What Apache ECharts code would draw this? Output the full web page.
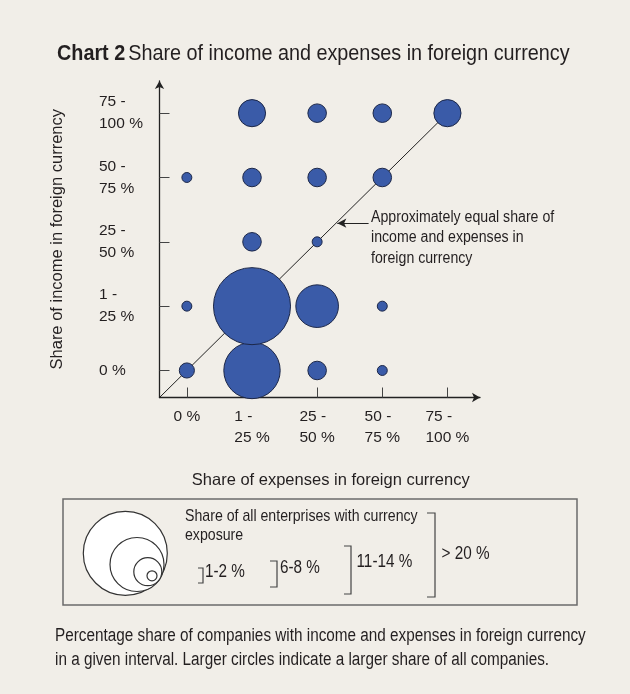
<!DOCTYPE html>
<html>
<head>
<meta charset="utf-8">
<style>
  html, body { margin: 0; padding: 0; background: #f1eee8; }
  #chart { width: 630px; height: 694px; }
</style>
<script src="https://cdn.jsdelivr.net/npm/echarts@6/dist/echarts.min.js"></script>
</head>
<body>
<div id="chart"></div>
<script>
// ----------data----------
const expenseLabels = ['0 %', '1 -\n25 %', '25 -\n50 %', '50 -\n75 %', '75 -\n100 %'];
const incomeLabels = ['0 %', '1 -\n25 %', '25 -\n50 %', '50 -\n75 %', '75 -\n100 %'];
// bubble position (index into labels) and share of enterprises (%)
const bubbleExpense = [0, 0, 0, 1, 1, 1, 1, 1, 2, 2, 2, 2, 2, 3, 3, 3, 3, 4];
const bubbleIncome  = [0, 1, 3, 0, 1, 2, 3, 4, 0, 1, 2, 3, 4, 0, 1, 3, 4, 4];
const bubbleShare   = [3, 1.5, 1.5, 15, 21, 4, 4, 6.5, 4, 11, 1.5, 4, 4, 1.5, 1.5, 4, 4, 6.5];
const legendShares = ['1-2 %', '6-8 %', '11-14 %', '> 20 %'];
// -------------------------

const FONT = '"Liberation Sans", Arial, sans-serif';
const TXT = '#231f20';

const chart = echarts.init(document.getElementById('chart'));

const bubbles = bubbleShare.map((s, i) => [bubbleExpense[i], bubbleIncome[i], s]);

const richLabel = (v, labels) => {
  const t = labels[v];
  if (t === undefined) return '';
  return t.split('\n').map(l => '{a|' + l + '}').join('\n');
};

// text helper for graphic elements (no narrow font installed: squeeze horizontally)
const txt = (x, y, text, size, sx, extra) => ({
  type: 'text',
  x, y,
  scaleX: sx,
  style: Object.assign({ text, font: size + 'px ' + FONT, fill: TXT, verticalAlign: 'top' }, extra || {}),
});

const option = {
  animation: false,
  backgroundColor: '#f1eee8',
  grid: { left: 159.5, top: 81, width: 320.5, height: 316.5 },
  xAxis: {
    type: 'value',
    min: -0.42,
    max: 4.5,
    name: 'Share of expenses in foreign currency',
    nameLocation: 'middle',
    nameGap: 74,
    nameTextStyle: { fontFamily: FONT, fontSize: 16.5, color: TXT, padding: [0, 0, 0, 22] },
    splitLine: { show: false },
    axisLine: {
      onZero: false,
      lineStyle: { color: '#222', width: 1.3 },
      symbol: ['none', 'arrow'],
      symbolSize: [7, 8],
    },
    axisTick: {
      inside: true,
      length: 10,
      customValues: [0, 1, 2, 3, 4],
      lineStyle: { color: '#444', width: 1 },
    },
    axisLabel: {
      customValues: [0, 1, 2, 3, 4],
      margin: 8,
      formatter: v => richLabel(v, expenseLabels),
      rich: { a: { fontFamily: FONT, fontSize: 15.5, lineHeight: 21.5, color: TXT, align: 'left' } },
    },
  },
  yAxis: {
    type: 'value',
    min: -0.42,
    max: 4.5,
    name: 'Share of income in foreign currency',
    nameLocation: 'middle',
    nameRotate: 90,
    nameGap: 94,
    nameTextStyle: { fontFamily: FONT, fontSize: 16.5, color: TXT },
    splitLine: { show: false },
    axisLine: {
      onZero: false,
      lineStyle: { color: '#222', width: 1.3 },
      symbol: ['none', 'arrow'],
      symbolSize: [7, 8],
    },
    axisTick: {
      inside: true,
      length: 10,
      customValues: [0, 1, 2, 3, 4],
      lineStyle: { color: '#444', width: 1 },
    },
    axisLabel: {
      customValues: [0, 1, 2, 3, 4],
      margin: 60.5,
      align: 'left',
      fontFamily: FONT,
      fontSize: 15.5,
      lineHeight: 22,
      color: TXT,
      formatter: v => incomeLabels[v] || '',
    },
  },
  series: [
    {
      // diagonal: equal share of income and expenses
      type: 'line',
      data: [[-0.42, -0.42], [4, 4]],
      symbol: 'none',
      silent: true,
      lineStyle: { color: '#222', width: 1 },
      z: 1,
      markLine: {
        silent: true,
        symbol: ['arrow', 'none'],
        symbolSize: [7, 9],
        label: { show: false },
        lineStyle: { color: '#222', width: 1, type: 'solid' },
        data: [[{ coord: [2.31, 2.29] }, { coord: [2.79, 2.29] }]],
      },
    },
    {
      type: 'scatter',
      data: bubbles,
      symbolSize: d => 4.8 + 3.44 * d[2],
      itemStyle: { color: '#3a5ba8', borderColor: '#1c2748', borderWidth: 1, opacity: 1 },
      z: 2,
    },
  ],
  graphic: [
    // title
    {
      type: 'text', x: 57, y: 43, scaleX: 0.9,
      style: {
        text: '{b|Chart 2} {r|Share of income and expenses in foreign currency}',
        verticalAlign: 'top',
        rich: {
          b: { font: 'bold 22px ' + FONT, fill: TXT },
          r: { font: '22px ' + FONT, fill: TXT },
        },
      },
    },
    txt(371, 207, 'Approximately equal share of\nincome and expenses in\nforeign currency', 16, 0.884, { lineHeight: 20.5 }),
    // legend box
    { type: 'rect', shape: { x: 63, y: 499, width: 514, height: 106 }, style: { fill: 'none', stroke: '#6b6b6b', lineWidth: 1.5 } },
    { type: 'circle', shape: { cx: 125.3, cy: 553.3, r: 42 }, style: { fill: '#fff', stroke: '#333', lineWidth: 1.2 } },
    { type: 'circle', shape: { cx: 137, cy: 564.5, r: 27 }, style: { fill: '#fff', stroke: '#333', lineWidth: 1.2 } },
    { type: 'circle', shape: { cx: 147.8, cy: 571.7, r: 14 }, style: { fill: '#fff', stroke: '#333', lineWidth: 1.2 } },
    { type: 'circle', shape: { cx: 152, cy: 575.8, r: 5 }, style: { fill: '#fff', stroke: '#333', lineWidth: 1.2 } },
    txt(185, 507, 'Share of all enterprises with currency\nexposure', 17, 0.832, { lineHeight: 19 }),
    { type: 'polyline', shape: { points: [[198, 568], [203, 568], [203, 583], [198, 583]] }, style: { fill: 'none', stroke: '#444', lineWidth: 1.2 } },
    { type: 'polyline', shape: { points: [[270, 561], [277, 561], [277, 587], [270, 587]] }, style: { fill: 'none', stroke: '#444', lineWidth: 1.2 } },
    { type: 'polyline', shape: { points: [[344, 546], [351, 546], [351, 594], [344, 594]] }, style: { fill: 'none', stroke: '#444', lineWidth: 1.2 } },
    { type: 'polyline', shape: { points: [[427, 513], [435, 513], [435, 597], [427, 597]] }, style: { fill: 'none', stroke: '#444', lineWidth: 1.2 } },
    txt(205, 572, legendShares[0], 18, 0.85, { verticalAlign: 'middle' }),
    txt(280, 568, legendShares[1], 18, 0.85, { verticalAlign: 'middle' }),
    txt(356.5, 562, legendShares[2], 18, 0.85, { verticalAlign: 'middle' }),
    txt(441.5, 554.5, legendShares[3], 18, 0.85, { verticalAlign: 'middle' }),
    // caption
    txt(55, 624, 'Percentage share of companies with income and expenses in foreign currency\nin a given interval. Larger circles indicate a larger share of all companies.', 18, 0.85, { lineHeight: 24 }),
  ],
};

chart.setOption(option);
</script>
</body>
</html>
